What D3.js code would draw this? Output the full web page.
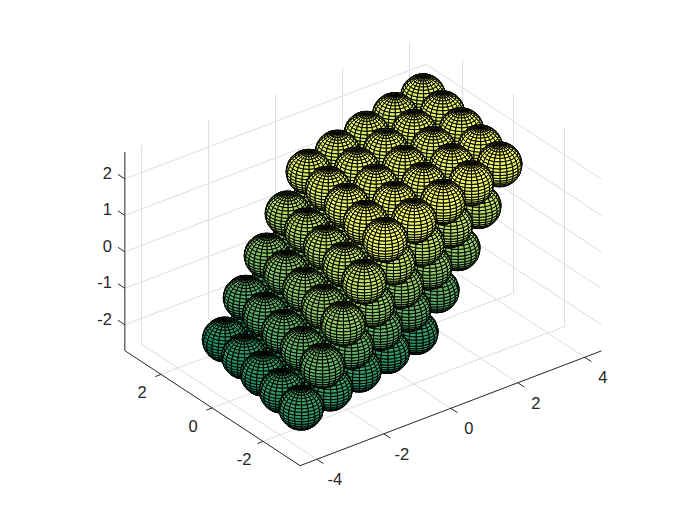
<!DOCTYPE html>
<html>
<head>
<meta charset="utf-8">
<script src="https://cdn.jsdelivr.net/npm/d3@7"></script>
<style>
  html, body { margin: 0; padding: 0; background: #fff; }
  text { font-family: "Liberation Sans", Arial, sans-serif; font-size: 16.5px; fill: #262626; }
</style>
</head>
<body>
<div id="chart"></div>
<script>
// axis limits and ticks
var xLim = [-4.5, 4.5], yLim = [-3.45, 3.42], zLim = [-2.71, 2.74];
var xTicks = [-4, -2, 0, 2, 4];
var yTicks = [-2, 0, 2];
var zTicks = [-2, -1, 0, 1, 2];

// sphere lattice offsets, one array per edge of the block
var rowX = [-0.49, -0.25, 0, 0.25, 0.49];
var rowY = [-2.14, -1.07, 0, 1.07, 2.14];
var rowZ = [0.22, 0.11, 0, -0.11, -0.22];
var colX = [-1.16, -0.58, 0, 0.58, 1.16];
var colY = [0.12, 0.06, 0, -0.06, -0.12];
var colZ = [-1.95, -0.98, 0, 0.98, 1.95];
var layerX = [-2.21, -1.10, 0, 1.08, 2.17];
var layerY = [-0.63, -0.31, 0, 0.31, 0.63];
var layerZ = [0.02, 0.01, 0, -0.01, -0.02];
var radius = 0.534;

var W = 700, H = 525;
var unit = 42.1, az = 37.3 * Math.PI / 180, el = 30 * Math.PI / 180;
var cx = 362.8, cy = 251.7;

var sx = d3.scaleLinear().domain([0, 1]).range([0, unit]);
var sy = d3.scaleLinear().domain([0, 1]).range([0, unit]);
var sz = d3.scaleLinear().domain([0, 1]).range([0, unit]);
var color = d3.scaleLinear().domain([-2.72, 2.72]).range(['#008066', '#ffff66']);

function project(x, y, z) {
  var px = sx(x), py = sy(y), pz = sz(z);
  return [
    cx + px * Math.cos(az) - py * Math.sin(az),
    cy - (px * Math.sin(az) + py * Math.cos(az)) * Math.sin(el) - pz * Math.cos(el)
  ];
}
// larger means further from the viewer
function depth(x, y, z) {
  return (x * Math.sin(az) + y * Math.cos(az)) * Math.cos(el) - z * Math.sin(el);
}

var svg = d3.select('#chart').append('svg').attr('width', W).attr('height', H);
var line = d3.line();

// grid on floor and the two back walls
var grid = svg.append('g').attr('fill', 'none').attr('stroke', '#dddddd').attr('stroke-width', 1);
xTicks.forEach(function (t) {
  grid.append('path').attr('d', line([project(t, yLim[0], zLim[0]), project(t, yLim[1], zLim[0]), project(t, yLim[1], zLim[1])]));
});
yTicks.forEach(function (t) {
  grid.append('path').attr('d', line([project(xLim[0], t, zLim[0]), project(xLim[1], t, zLim[0]), project(xLim[1], t, zLim[1])]));
});
zTicks.forEach(function (t) {
  grid.append('path').attr('d', line([project(xLim[0], yLim[1], t), project(xLim[1], yLim[1], t), project(xLim[1], yLim[0], t)]));
});

// axes
var axes = svg.append('g').attr('fill', 'none').attr('stroke', '#262626').attr('stroke-width', 1);
axes.append('path').attr('d', line([project(xLim[0], yLim[1], zLim[1]), project(xLim[0], yLim[1], zLim[0]), project(xLim[0], yLim[0], zLim[0]), project(xLim[1], yLim[0], zLim[0])]));
xTicks.forEach(function (t) {
  axes.append('path').attr('d', line([project(t, yLim[0], zLim[0]), project(t, yLim[0] - 0.26, zLim[0])]));
  var p = project(t, yLim[0], zLim[0]);
  svg.append('text').attr('x', p[0] + 18).attr('y', p[1] + 20).attr('dy', '0.36em').attr('text-anchor', 'middle').text(t);
});
yTicks.forEach(function (t) {
  axes.append('path').attr('d', line([project(xLim[0], t, zLim[0]), project(xLim[0] - 0.17, t, zLim[0])]));
  var p = project(xLim[0], t, zLim[0]);
  svg.append('text').attr('x', p[0] - 19).attr('y', p[1] + 18).attr('dy', '0.36em').attr('text-anchor', 'middle').text(t);
});
zTicks.forEach(function (t) {
  axes.append('path').attr('d', line([project(xLim[0], yLim[1], t), project(xLim[0], yLim[1] + 0.27, t)]));
  var p = project(xLim[0], yLim[1], t);
  svg.append('text').attr('x', p[0] - 13).attr('y', p[1] - 6).attr('dy', '0.36em').attr('text-anchor', 'end').text(t);
});

// unit sphere mesh, 20 x 20 faces like sphere(20)
var N = 20, faces = [];
d3.range(N).forEach(function (i) {
  d3.range(N).forEach(function (j) {
    var corners = [[i, j], [i + 1, j], [i + 1, j + 1], [i, j + 1]].map(function (c) {
      var lat = -Math.PI / 2 + c[0] * Math.PI / N, lon = -Math.PI + c[1] * 2 * Math.PI / N;
      return [Math.cos(lat) * Math.cos(lon), Math.cos(lat) * Math.sin(lon), Math.sin(lat)];
    });
    var mid = [d3.mean(corners, function (c) { return c[0]; }), d3.mean(corners, function (c) { return c[1]; }), d3.mean(corners, function (c) { return c[2]; })];
    // only the half that faces the viewer, the far side is never seen
    if (depth(mid[0], mid[1], mid[2]) < 0.12) {
      faces.push({ corners: corners, d: depth(mid[0], mid[1], mid[2]) });
    }
  });
});
faces.sort(function (a, b) { return b.d - a.d; });

var spheres = [];
rowX.forEach(function (_, i) {
  colX.forEach(function (_, j) {
    layerX.forEach(function (_, k) {
      var x = rowX[i] + colX[j] + layerX[k];
      var y = rowY[i] + colY[j] + layerY[k];
      var z = rowZ[i] + colZ[j] + layerZ[k];
      spheres.push({ x: x, y: y, z: z, d: depth(x, y, z) });
    });
  });
});
spheres.sort(function (a, b) { return b.d - a.d; });

svg.selectAll('g.sphere').data(spheres).enter().append('g').attr('class', 'sphere')
  .attr('stroke', '#000').attr('stroke-width', 1)
  .each(function (s) {
    d3.select(this).selectAll('path').data(faces).enter().append('path')
      .attr('fill', function (f) { return color(s.z + radius * f.corners[0][2]); })
      .attr('d', function (f) {
        return line(f.corners.map(function (c) {
          return project(s.x + radius * c[0], s.y + radius * c[1], s.z + radius * c[2]);
        })) + 'Z';
      });
  });
</script>
</body>
</html>
